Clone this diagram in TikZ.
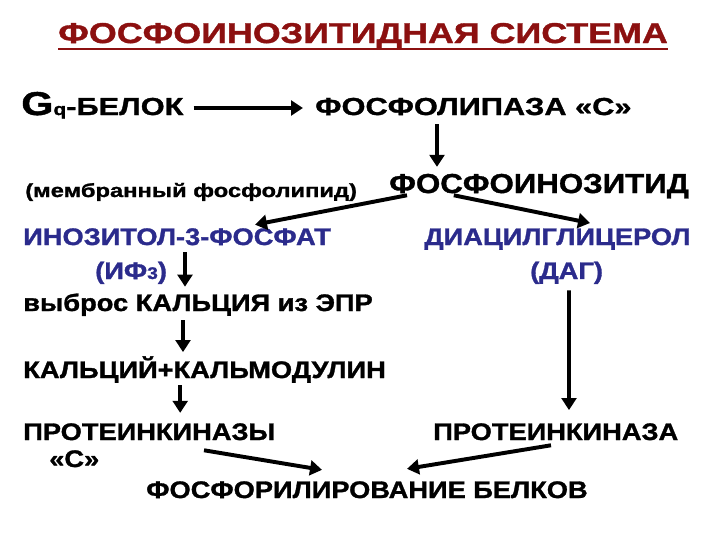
\documentclass[tikz,border=0pt]{standalone}
\usepackage{fontspec}
\setmainfont{Liberation Sans}[FakeStretch=1.25,BoldFeatures={FakeBold=1.3}]
\newfontfamily\narrowsans{Liberation Sans}[FakeStretch=1.14,BoldFeatures={FakeBold=1.3}]
\usetikzlibrary{arrows.meta,calc}
\definecolor{titleRed}{HTML}{8C1010}
\definecolor{ipBlue}{HTML}{2B2B8C}
\definecolor{paperWhite}{HTML}{FFFFFF}
\tikzset{
    txt/.style={inner sep=0pt,anchor=base west,text height=12pt,text depth=0pt,
        font=\narrowsans\fontsize{17}{20}\selectfont\bfseries},
    widetxt/.style={txt,font=\fontsize{17.5}{20}\selectfont\bfseries},
    bluetxt/.style={txt,text=ipBlue},
    titletxt/.style={txt,text=titleRed,text height=14pt,
        font=\fontsize{20.4}{24}\selectfont\bfseries},
    arrow/.style={-{Triangle[length=8.5pt,width=10.5pt]},line width=2.8pt},
    titleline/.style={draw=titleRed,line width=2pt}
}
\begin{document}
\begin{tikzpicture}
    \useasboundingbox[fill=paperWhite] (0,0) rectangle (18,-13.5);
    % заголовок
    \node[titletxt] (title) at (1.45,-1.075) {ФОСФОИНОЗИТИДНАЯ СИСТЕМА};
    \draw[titleline] ([yshift=-0.15cm]title.base west) -- ([yshift=-0.15cm]title.base east);

    % верхняя цепочка
    \node[widetxt,text height=16pt] (gq) at (0.525,-2.875)
        {{\fontsize{23.5}{24}\selectfont G}{\fontsize{12}{12}\selectfont q}-БЕЛОК};
    \node[widetxt] (plc) at (7.875,-2.875) {ФОСФОЛИПАЗА «С»};
    \draw[arrow] ([xshift=0.25cm,yshift=0.175cm]gq.base east) -- ([xshift=-0.3cm,yshift=0.175cm]plc.base west);

    \node[widetxt,font=\fontsize{13.5}{16}\selectfont\bfseries] (memb) at (0.625,-4.925)
        {(мембранный фосфолипид)};
    \node[txt,text height=15pt,font=\narrowsans\fontsize{19.5}{24}\selectfont\bfseries] (pi) at (9.725,-4.825)
        {ФОСФОИНОЗИТИД};
    \draw[arrow] ([xshift=3.05cm,yshift=-0.22cm]plc.south west) -- ([xshift=1.2cm,yshift=0.12cm]pi.north west);

    % два продукта
    \node[bluetxt] (ip3) at (0.575,-6.125) {ИНОЗИТОЛ-3-ФОСФАТ};
    \node[bluetxt] (dag) at (10.6,-6.125) {ДИАЦИЛГЛИЦЕРОЛ};
    \node[bluetxt] (ip3abbr) at (2.375,-6.975) {(ИФ{\fontsize{12}{12}\selectfont 3})};
    \node[bluetxt] (dagabbr) at (13.25,-6.975) {(ДАГ)};
    \draw[arrow] ([xshift=0.45cm,yshift=-0.05cm]pi.south west) -- ([xshift=5.8cm,yshift=0.08cm]ip3.north west);
    \draw[arrow] ([xshift=1.62cm,yshift=-0.05cm]pi.south west) -- ([xshift=4.15cm,yshift=0.12cm]dag.north west);

    % левая ветвь
    \node[txt] (release) at (0.575,-7.775) {выброс КАЛЬЦИЯ из ЭПР};
    \node[txt] (calm) at (0.575,-9.45) {КАЛЬЦИЙ+КАЛЬМОДУЛИН};
    \node[txt] (pk) at (0.575,-11.0) {ПРОТЕИНКИНАЗЫ};
    \node[txt] (pkC) at (1.225,-11.675) {«С»};
    \draw[arrow] ([xshift=4.05cm,yshift=-0.18cm]ip3.south west) -- ([xshift=4.05cm,yshift=0.18cm]release.north west);
    \draw[arrow] ([xshift=4.0cm,yshift=-0.22cm]release.south west) -- ([xshift=4.0cm,yshift=0.22cm]calm.north west);
    \draw[arrow] ([xshift=3.93cm,yshift=-0.18cm]calm.south west) -- ([xshift=3.93cm,yshift=0.25cm]pk.north west);

    % правая ветвь
    \node[txt] (pkc) at (10.825,-11.0) {ПРОТЕИНКИНАЗА};
    \draw[arrow] ([xshift=0.975cm,yshift=-0.28cm]dagabbr.south west) -- ([xshift=3.4cm,yshift=0.32cm]pkc.north west);

    % итог
    \node[txt] (phos) at (3.65,-12.45) {ФОСФОРИЛИРОВАНИЕ БЕЛКОВ};
    \draw[arrow] ([xshift=4.525cm,yshift=-0.25cm]pk.south west) -- ([xshift=4.4cm,yshift=0.275cm]phos.north west);
    \draw[arrow] ([xshift=2.95cm,yshift=-0.125cm]pkc.south west) -- ([xshift=6.525cm,yshift=0.3cm]phos.north west);
\end{tikzpicture}
\end{document}
